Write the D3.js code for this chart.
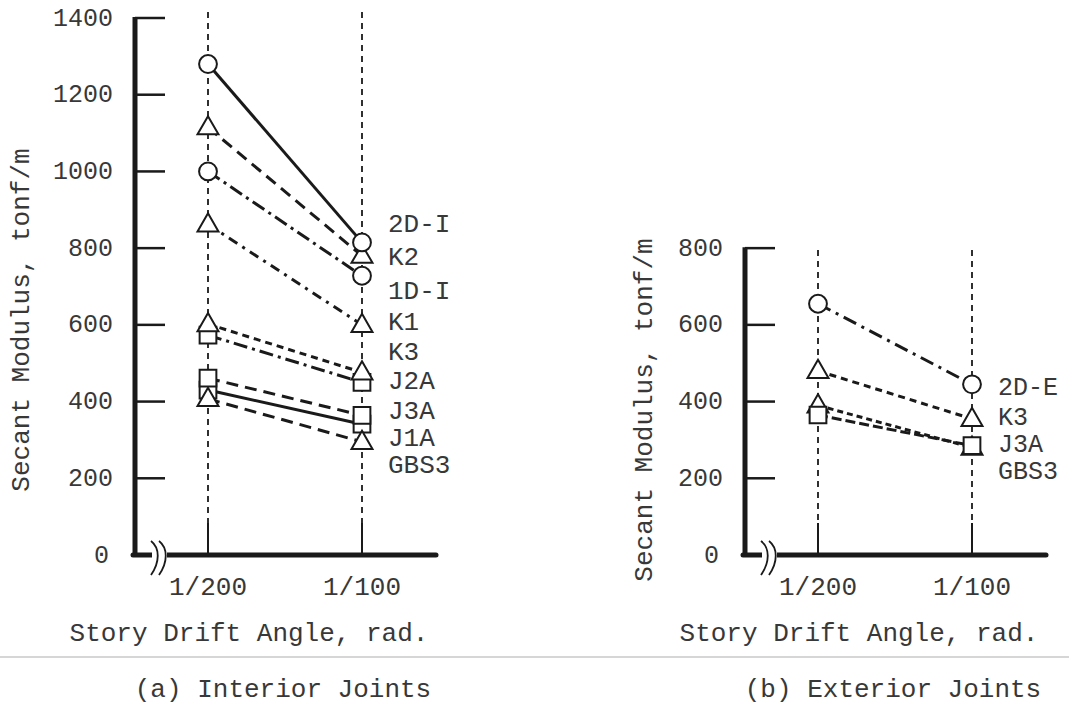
<!DOCTYPE html>
<html>
<head>
    <title>Secant Modulus vs Story Drift Angle</title>
    <script type="text/javascript" src="https://cdn.jsdelivr.net/npm/d3@7/dist/d3.min.js"></script>
    <style>
        body { margin: 0; background: white; }
        text { font-family: "Liberation Mono", "DejaVu Sans Mono", monospace; fill: #383838; }
    </style>
</head>
<body>
    <script type="text/javascript">
        // categories on the x axis
        var drifts = ['1/200', '1/100'];

        // (a) interior joints
        var interiorNames = ['2D-I', 'K2', '1D-I', 'K1', 'K3', 'J2A', 'J3A', 'J1A', 'GBS3'];
        var interiorAt200 = [1280, 1115, 1000, 862, 602, 573, 461, 430, 407];
        var interiorAt100 = [815, 780, 728, 600, 476, 450, 364, 341, 295];

        // (b) exterior joints
        var exteriorNames = ['2D-E', 'K3', 'J3A', 'GBS3'];
        var exteriorAt200 = [655, 480, 365, 390];
        var exteriorAt100 = [445, 355, 285, 280];

        var yTicksA = [0, 200, 400, 600, 800, 1000, 1200, 1400];
        var yTicksB = [0, 200, 400, 600, 800];

        // marker + line style per series (styles kept apart from the values)
        var styleA = {
            '2D-I': { mark: 'circle', dash: null },
            'K2': { mark: 'triangle', dash: '12,7' },
            '1D-I': { mark: 'circle', dash: '14,5,3,5' },
            'K1': { mark: 'triangle', dash: '10,6,3,6' },
            'K3': { mark: 'triangle', dash: '7,5' },
            'J2A': { mark: 'square', dash: '14,5,3,5' },
            'J3A': { mark: 'square', dash: '12,7' },
            'J1A': { mark: 'square', dash: null },
            'GBS3': { mark: 'triangle', dash: '12,7' }
        };
        var styleB = {
            '2D-E': { mark: 'circle', dash: '14,6,3,6' },
            'K3': { mark: 'triangle', dash: '7,5' },
            'J3A': { mark: 'square', dash: '10,4' },
            'GBS3': { mark: 'triangle', dash: '6,4' }
        };
        // which marker sits on top of which (first drawn = lowest)
        var drawOrderA = ['J1A', 'GBS3', 'J3A', 'J2A', 'K3', 'K1', '1D-I', 'K2', '2D-I'];
        var drawOrderB = ['GBS3', 'J3A', 'K3', '2D-E'];
        // label placement at the right end (pixel y)
        var labelYA = [225, 258, 292, 323, 353, 382, 412, 439, 466];
        var labelYB = [388, 418, 445, 472];

        var width = 1069, height = 708;
        var svg = d3.select('body').append('svg')
                    .attr('width', width)
                    .attr('height', height);

        var ink = '#1a1a1a';

        function drawPanel(opt) {
            var g = svg.append('g');
            var y = d3.scaleLinear().domain([0, opt.ymax]).range([555, 555 - opt.ymax * 0.38357]);
            var x = d3.scalePoint().domain(drifts).range([opt.ax + 73, opt.ax + 227]);
            var top = y(opt.ymax);

            // category guide lines (dashed) with solid tick at the bottom
            drifts.forEach(function(c) {
                g.append('line')
                    .attr('x1', x(c)).attr('x2', x(c))
                    .attr('y1', opt.guideTop).attr('y2', 523)
                    .attr('stroke', ink).attr('stroke-width', 1.8)
                    .attr('stroke-dasharray', '6,5');
                g.append('line')
                    .attr('x1', x(c)).attr('x2', x(c))
                    .attr('y1', 523).attr('y2', 555)
                    .attr('stroke', ink).attr('stroke-width', 2);
                g.append('text')
                    .attr('x', x(c)).attr('y', 588)
                    .attr('text-anchor', 'middle')
                    .attr('dominant-baseline', 'middle')
                    .style('font-size', '26px')
                    .text(c);
            });

            // y ticks
            opt.ticks.forEach(function(t) {
                if (t > 0) {
                    g.append('line')
                        .attr('x1', opt.ax).attr('x2', opt.ax + 30)
                        .attr('y1', y(t)).attr('y2', y(t))
                        .attr('stroke', ink).attr('stroke-width', 2.5);
                }
                g.append('text')
                    .attr('x', t === 0 ? opt.ax - 26 : opt.ax - 22)
                    .attr('y', y(t) + 1)
                    .attr('text-anchor', 'end')
                    .attr('dominant-baseline', 'middle')
                    .style('font-size', '25px')
                    .text(t);
            });

            // axes
            g.append('line')
                .attr('x1', opt.ax).attr('x2', opt.ax)
                .attr('y1', top - 1).attr('y2', 557)
                .attr('stroke', ink).attr('stroke-width', 5);
            g.append('line')
                .attr('x1', opt.ax - 2).attr('x2', opt.ax + 301)
                .attr('y1', 555).attr('y2', 555)
                .attr('stroke', ink).attr('stroke-width', 5)
                .attr('stroke-linecap', 'round');

            // axis break
            g.append('rect')
                .attr('x', opt.ax + 17).attr('y', 550)
                .attr('width', 15).attr('height', 10)
                .attr('fill', 'white');
            [opt.ax + 19, opt.ax + 27].forEach(function(bx) {
                g.append('path')
                    .attr('d', 'M' + (bx - 3) + ',541 C' + (bx + 6) + ',548 ' + (bx + 6) + ',562 ' + (bx - 3) + ',575')
                    .attr('fill', 'none')
                    .attr('stroke', ink).attr('stroke-width', 1.8);
            });

            // series lines
            opt.names.forEach(function(name, i) {
                var st = opt.style[name];
                var pts = [opt.v200[i], opt.v100[i]];
                var line = d3.line()
                    .x(function(d, j) { return x(drifts[j]); })
                    .y(function(d) { return y(d); });
                g.append('path')
                    .datum(pts)
                    .attr('d', line)
                    .attr('fill', 'none')
                    .attr('stroke', ink)
                    .attr('stroke-width', 3)
                    .attr('stroke-dasharray', st.dash);
            });

            // markers
            var sym = {
                circle: d3.symbol().type(d3.symbolCircle).size(250),
                triangle: d3.symbol().type(d3.symbolTriangle).size(190),
                square: d3.symbol().type(d3.symbolSquare).size(280)
            };
            opt.order.forEach(function(name) {
                var i = opt.names.indexOf(name);
                var st = opt.style[name];
                [opt.v200[i], opt.v100[i]].forEach(function(v, j) {
                    var cy = y(v) + (st.mark === 'triangle' ? 1 : 0);
                    g.append('path')
                        .attr('d', sym[st.mark]())
                        .attr('transform', 'translate(' + x(drifts[j]) + ',' + cy + ')')
                        .attr('fill', 'white')
                        .attr('stroke', ink)
                        .attr('stroke-width', 2);
                });
            });

            // series labels
            opt.names.forEach(function(name, i) {
                g.append('text')
                    .attr('x', opt.ax + 253)
                    .attr('y', opt.labelY[i])
                    .attr('dominant-baseline', 'middle')
                    .style('font-size', opt.labelSize)
                    .text(name);
            });

            // axis titles
            g.append('text')
                .attr('transform', 'translate(' + opt.ytx + ',' + opt.yty + ') rotate(-90)')
                .attr('text-anchor', 'middle')
                .attr('dominant-baseline', 'middle')
                .style('font-size', '26px')
                .text('Secant Modulus, tonf/m');
            g.append('text')
                .attr('x', opt.ax + 114).attr('y', 634)
                .attr('text-anchor', 'middle')
                .attr('dominant-baseline', 'middle')
                .style('font-size', '26px')
                .text('Story Drift Angle, rad.');
            g.append('text')
                .attr('x', opt.ax + 148).attr('y', 690)
                .attr('text-anchor', 'middle')
                .attr('dominant-baseline', 'middle')
                .style('font-size', '26px')
                .text(opt.caption);
        }

        drawPanel({
            ax: 135, ymax: 1400, ticks: yTicksA, guideTop: 12,
            names: interiorNames, v200: interiorAt200, v100: interiorAt100,
            style: styleA, order: drawOrderA, labelY: labelYA, labelSize: '26px',
            ytx: 22, yty: 320, caption: '(a) Interior Joints'
        });
        drawPanel({
            ax: 745, ymax: 800, ticks: yTicksB, guideTop: 250,
            names: exteriorNames, v200: exteriorAt200, v100: exteriorAt100,
            style: styleB, order: drawOrderB, labelY: labelYB, labelSize: '25px',
            ytx: 645, yty: 410, caption: '(b) Exterior Joints'
        });

        // separator line between plots and captions
        svg.append('line')
            .attr('x1', 0).attr('x2', width)
            .attr('y1', 657).attr('y2', 657)
            .attr('stroke', '#c8c8c8').attr('stroke-width', 1.5);
    </script>
</body>
</html>
